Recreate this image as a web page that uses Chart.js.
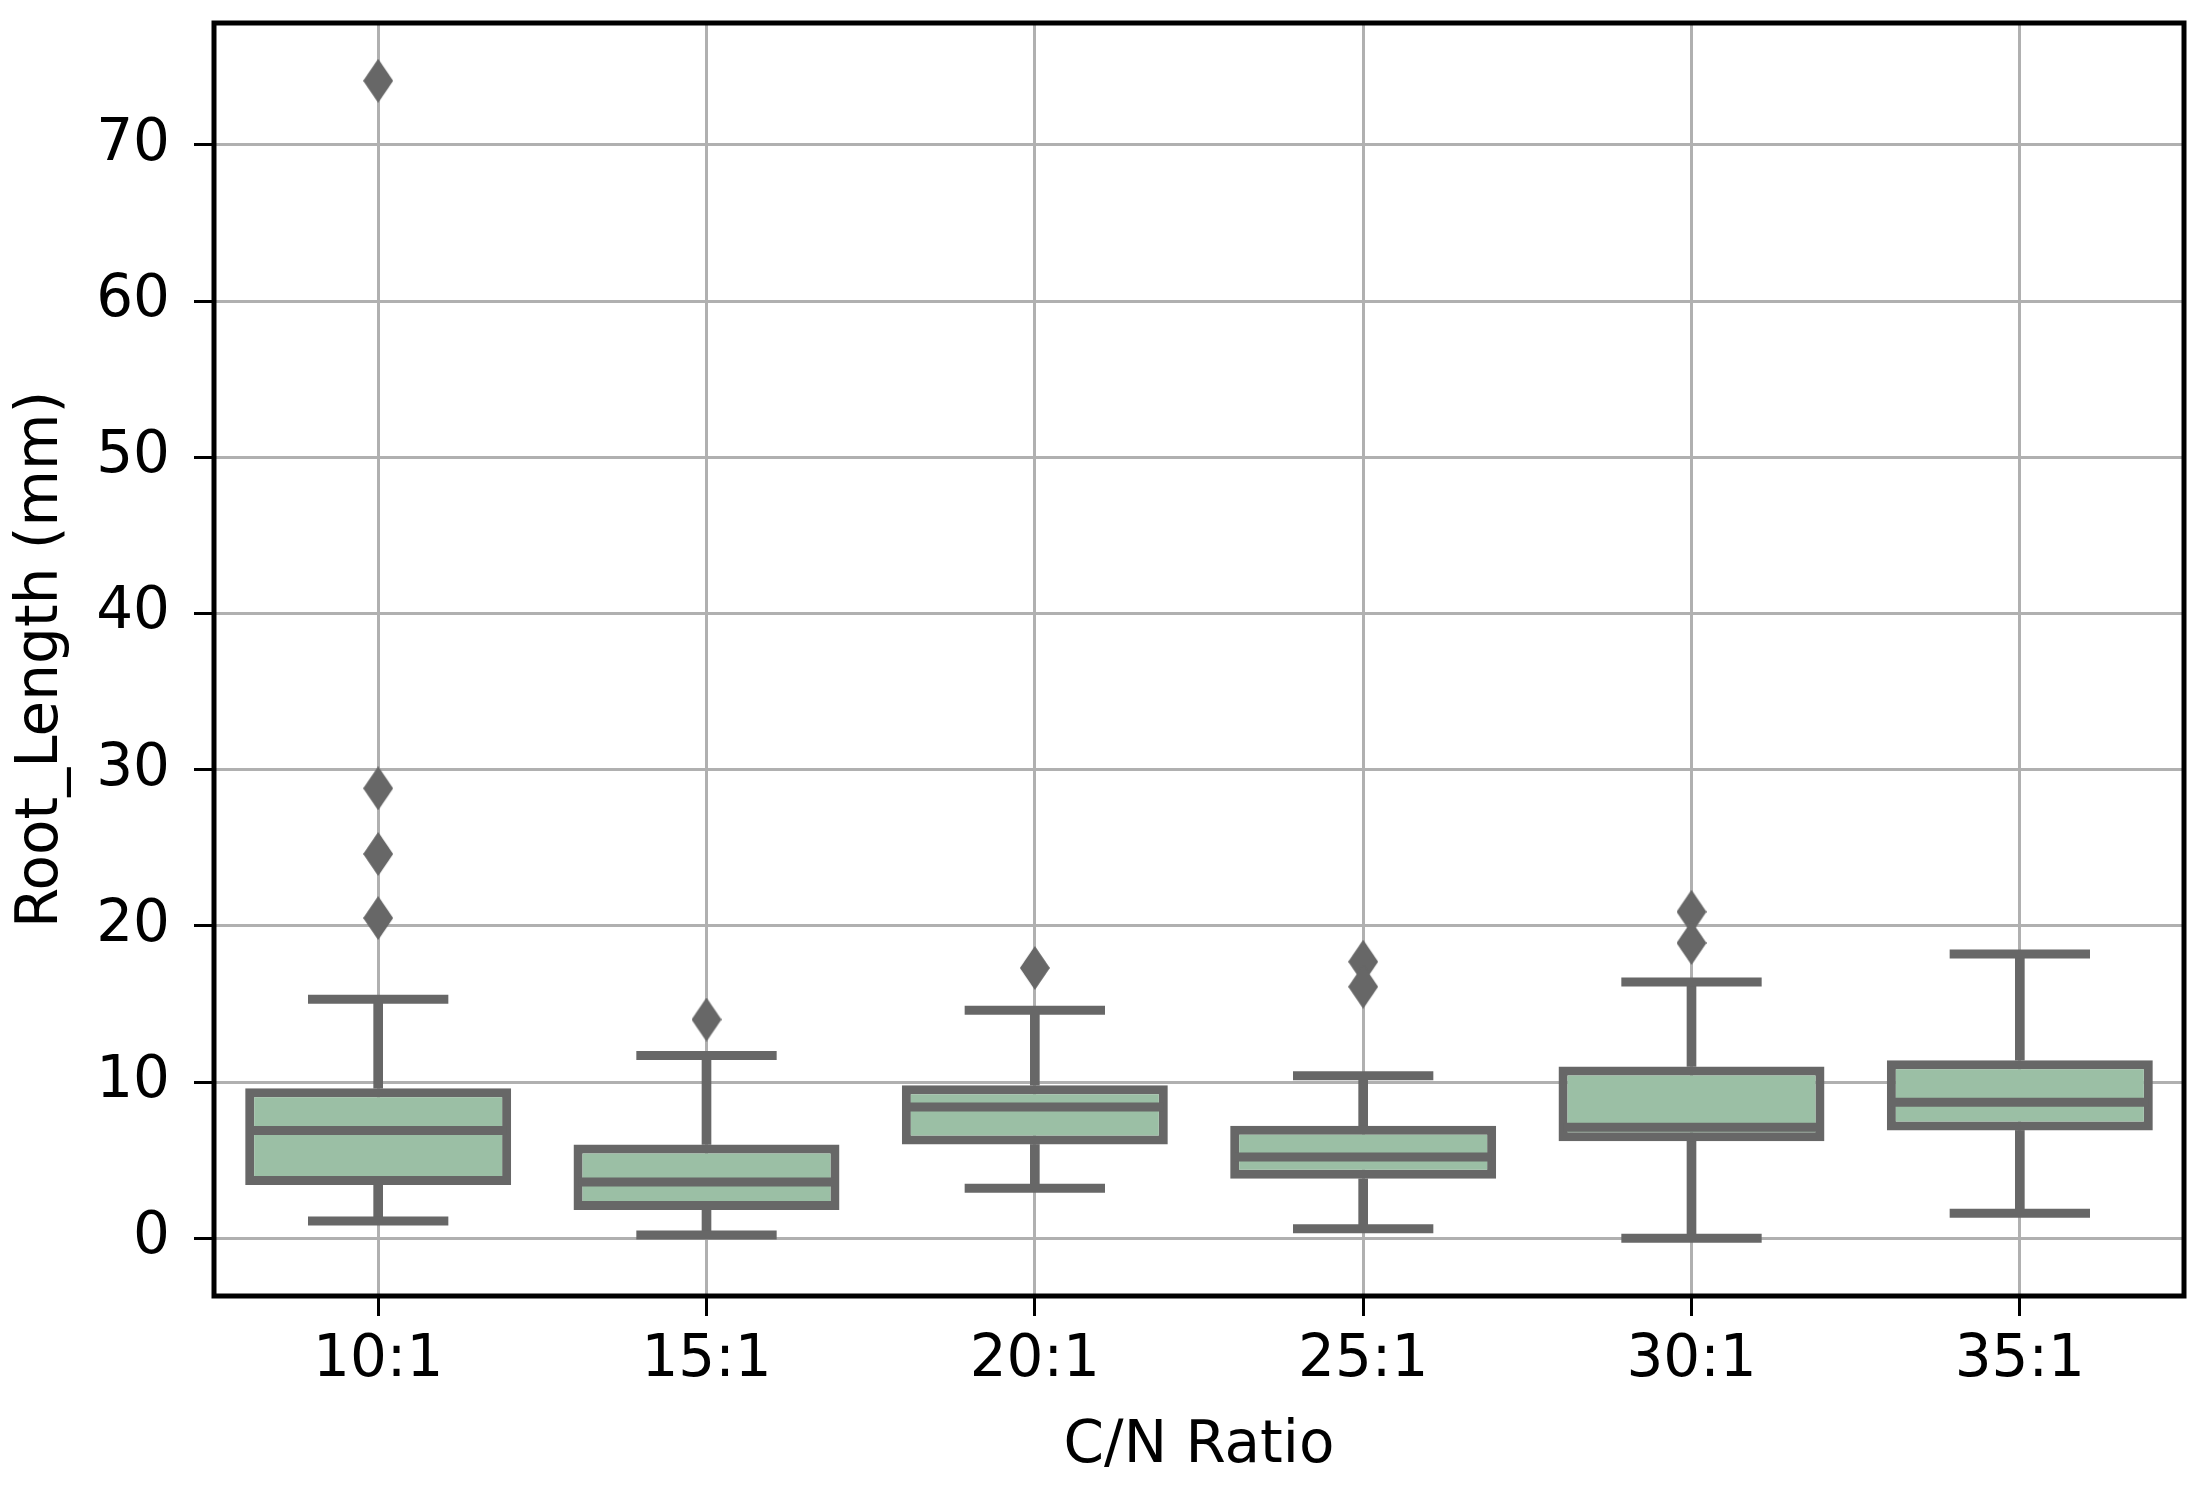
<!DOCTYPE html>
<html>
<head>
<meta charset="utf-8">
<script src="https://cdn.jsdelivr.net/npm/chart.js@4.4.0/dist/chart.umd.min.js"></script>
<style>
  html, body { margin: 0; padding: 0; background: #fff; }
  #wrap { width: 2211px; height: 1492px; }
</style>
</head>
<body>
<div id="wrap"><canvas id="boxChart"></canvas></div>
<script>
// Box plot stats (mm)
const categories = ['10:1', '15:1', '20:1', '25:1', '30:1', '35:1'];
const whiskerLow = [1.1, 0.2, 3.2, 0.6, 0.0, 1.6];
const q1 = [3.4, 1.8, 6.0, 3.8, 6.2, 6.9];
const median = [6.9, 3.6, 8.4, 5.2, 7.1, 8.7];
const q3 = [9.6, 6.0, 9.8, 7.2, 11.0, 11.4];
const whiskerHigh = [15.3, 11.7, 14.6, 10.4, 16.4, 18.2];
const outliers = [
    [74.1, 28.8, 24.6, 20.5],
    [14.0],
    [17.3],
    [17.7, 16.1],
    [20.9, 18.9],
    []
];
const yTicks = [0, 10, 20, 30, 40, 50, 60, 70];

const boxFill = '#9bbfa5';
const lineGray = '#676767';
const lineW = 9;

Chart.defaults.font.family = 'DejaVu Sans';
Chart.defaults.font.size = 58;
Chart.defaults.color = '#000';

// thin diamond marker for the fliers
const diamond = document.createElement('canvas');
diamond.width = 30;
diamond.height = 44;
const dctx = diamond.getContext('2d');
dctx.fillStyle = lineGray;
dctx.beginPath();
dctx.moveTo(15, 0);
dctx.lineTo(30, 22);
dctx.lineTo(15, 44);
dctx.lineTo(0, 22);
dctx.closePath();
dctx.fill();

// width of one category slot in pixels (chartArea is not there before the first layout)
function catWidth(chart) {
    if (!chart.chartArea) return 0;
    return chart.chartArea.width / categories.length;
}

const flierPoints = [];
outliers.forEach((list, i) => {
    list.forEach(v => flierPoints.push({ x: categories[i], y: v }));
});

// frame round the plot area (top and right spines too)
const framePlugin = {
    id: 'frame',
    afterDatasetsDraw(chart) {
        const { ctx, chartArea } = chart;
        ctx.save();
        ctx.strokeStyle = '#000';
        ctx.lineWidth = 5;
        ctx.strokeRect(chartArea.left, chartArea.top, chartArea.width, chartArea.height);
        ctx.restore();
    }
};

const ctx = document.getElementById('boxChart').getContext('2d');
new Chart(ctx, {
    type: 'bar',
    data: {
        labels: categories,
        datasets: [
            {
                label: 'box',
                data: categories.map((c, i) => [q1[i], q3[i]]),
                backgroundColor: boxFill,
                borderColor: lineGray,
                borderWidth: lineW,
                borderSkipped: false,
                grouped: false,
                barPercentage: 0.81,
                categoryPercentage: 1.0,
                order: 3
            },
            {
                label: 'upper whisker',
                data: categories.map((c, i) => [q3[i], whiskerHigh[i]]),
                backgroundColor: lineGray,
                borderWidth: 0,
                grouped: false,
                barThickness: lineW,
                order: 4
            },
            {
                label: 'lower whisker',
                data: categories.map((c, i) => [whiskerLow[i], q1[i]]),
                backgroundColor: lineGray,
                borderWidth: 0,
                grouped: false,
                barThickness: lineW,
                order: 4
            },
            {
                type: 'line',
                label: 'caps high',
                data: whiskerHigh,
                showLine: false,
                clip: false,
                pointStyle: 'line',
                pointRadius: (c) => catWidth(c.chart) * 0.2 + lineW / 2,
                pointBorderWidth: lineW,
                pointBorderColor: lineGray,
                order: 1
            },
            {
                type: 'line',
                label: 'caps low',
                data: whiskerLow,
                showLine: false,
                clip: false,
                pointStyle: 'line',
                pointRadius: (c) => catWidth(c.chart) * 0.2 + lineW / 2,
                pointBorderWidth: lineW,
                pointBorderColor: lineGray,
                order: 1
            },
            {
                type: 'line',
                label: 'median',
                data: median,
                showLine: false,
                clip: false,
                pointStyle: 'line',
                pointRadius: (c) => catWidth(c.chart) * 0.405 - lineW / 2,
                pointBorderWidth: lineW,
                pointBorderColor: lineGray,
                order: 1
            },
            {
                type: 'line',
                label: 'outliers',
                data: flierPoints,
                showLine: false,
                clip: false,
                pointStyle: diamond,
                pointRadius: 22,
                order: 0
            }
        ]
    },
    options: {
        responsive: true,
        maintainAspectRatio: false,
        animation: false,
        events: [],
        layout: { padding: { top: 19, right: 27, left: 0, bottom: 0 } },
        plugins: {
            legend: { display: false },
            tooltip: { enabled: false }
        },
        scales: {
            x: {
                type: 'category',
                offset: true,
                grid: {
                    offset: false,
                    color: '#b0b0b0',
                    lineWidth: 3,
                    tickColor: '#000',
                    tickLength: 20,
                    tickWidth: 3
                },
                border: { display: false },
                ticks: { padding: 10, font: { size: 58 }, color: '#000' },
                title: {
                    display: true,
                    text: 'C/N Ratio',
                    font: { size: 58 },
                    color: '#000',
                    padding: { top: 0, bottom: 10 }
                },
                afterFit(scale) {
                    scale.height = 196;
                    scale.paddingLeft = 0;
                    scale.paddingRight = 0;
                }
            },
            y: {
                type: 'linear',
                min: -3.7,
                max: 77.8,
                afterBuildTicks(axis) {
                    axis.ticks = yTicks.map(v => ({ value: v }));
                },
                grid: {
                    color: '#b0b0b0',
                    lineWidth: 3,
                    tickColor: '#000',
                    tickLength: 20,
                    tickWidth: 3
                },
                border: { display: false },
                ticks: { padding: 24, font: { size: 58 }, color: '#000' },
                title: {
                    display: true,
                    text: 'Root_Length (mm)',
                    font: { size: 58 },
                    color: '#000',
                    padding: { top: 7, bottom: 0 }
                },
                afterFit(scale) {
                    scale.width = 214;
                    scale.paddingTop = 0;
                    scale.paddingBottom = 0;
                }
            }
        }
    },
    plugins: [framePlugin]
});
</script>
</body>
</html>
